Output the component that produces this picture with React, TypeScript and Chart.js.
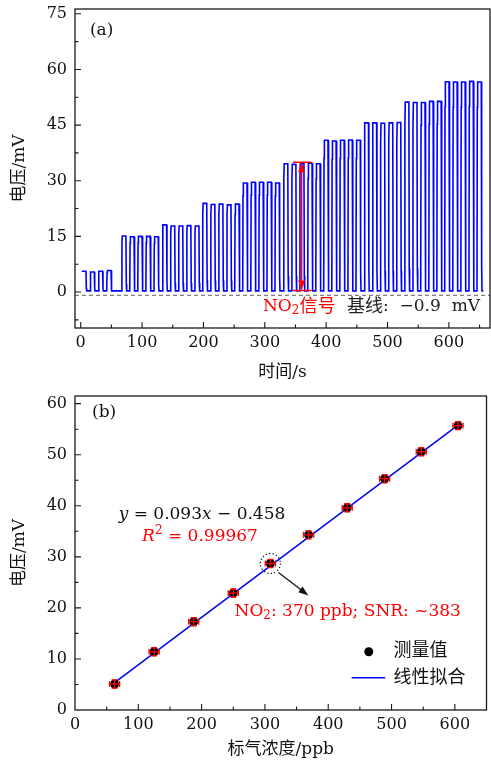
import React, { useEffect, useRef } from "react";
import { Chart, registerables } from "chart.js";
Chart.register(...registerables);

const FONT = "'DejaVu Serif', 'Noto Sans CJK SC', serif";
const f = (size: number, style = "") => `${style} ${size}px ${FONT}`.trim();

// ---------- (a) time trace ----------
const timeTicks = [0, 100, 200, 300, 400, 500, 600];
const voltTicksA = [0, 15, 30, 45, 60, 75];
const pulseStart = [
  1.6, 15.2, 28.7, 42.4,
  66.7, 79.9, 93.0, 106.2, 119.4,
  133.0, 146.2, 159.3, 172.5, 185.7,
  198.4, 211.6, 224.7, 237.9, 251.0,
  264.0, 277.2, 290.3, 303.5, 316.6,
  330.5, 343.7, 356.8, 370.0, 383.1,
  396.0, 409.2, 422.3, 435.5, 448.6,
  462.0, 475.2, 488.3, 501.5, 514.6,
  527.8, 541.0, 554.1, 567.3, 580.4,
  593.2, 606.4, 619.5, 632.7, 645.8,
];
const pulseHigh = [
  5.6, 5.4, 5.6, 5.8,
  15.1, 14.9, 15.0, 15.0, 14.9,
  18.1, 17.8, 17.8, 17.9, 17.8,
  23.9, 23.6, 23.7, 23.5, 23.7,
  29.4, 29.6, 29.6, 29.6, 29.4,
  34.6, 34.4, 34.6, 34.7, 34.6,
  40.9, 40.7, 40.9, 41.0, 40.9,
  45.6, 45.6, 45.5, 45.6, 45.7,
  51.2, 51.1, 51.1, 51.4, 51.4,
  56.7, 56.6, 56.6, 56.8, 56.6,
];
const pulseWidth = 7.0;
const lowLevel = 0.3;
const traceEnd = 656;
const baselineValue = -0.9;
const signalTime = 360;
const signalLow = 0.4;
const signalHigh = 35;

// ---------- (b) calibration ----------
const concentration = [62.5, 125, 187.5, 250, 308.6, 369, 430, 489, 547, 605];
const measured = [5.1, 11.4, 17.3, 22.9, 28.7, 34.3, 39.6, 45.3, 50.6, 55.7];
const concErr = [8, 8, 8, 8, 8, 8, 8, 8, 8, 8];
const voltErr = [0.8, 0.8, 0.8, 0.8, 0.8, 0.8, 0.8, 0.8, 0.8, 0.8];
const fitSlope = 0.093;
const fitIntercept = -0.458;
const concTicks = [0, 100, 200, 300, 400, 500, 600];
const voltTicksB = [0, 10, 20, 30, 40, 50, 60];
const highlightIndex = 4;

function buildTrace() {
  const pts: { x: number; y: number }[] = [];
  pulseStart.forEach((s, i) => {
    const h = pulseHigh[i];
    if (i === 0) {
      pts.push({ x: s, y: h });
    } else {
      pts.push({ x: s, y: lowLevel });
      pts.push({ x: s + 0.5, y: lowLevel + (h - lowLevel) * 0.88 });
      pts.push({ x: s + 1.1, y: h });
    }
    pts.push({ x: s + pulseWidth, y: h });
    pts.push({ x: s + pulseWidth + 0.6, y: lowLevel + (h - lowLevel) * 0.12 });
    pts.push({ x: s + pulseWidth + 1.2, y: lowLevel });
  });
  pts.push({ x: traceEnd, y: lowLevel });
  return pts;
}

type Run = { text: string; size?: number; style?: string; dy?: number; color?: string };
function drawRuns(ctx: CanvasRenderingContext2D, x: number, y: number, runs: Run[], color = "#111") {
  let cx = x;
  ctx.textBaseline = "middle";
  ctx.textAlign = "left";
  for (const r of runs) {
    ctx.font = f(r.size ?? 17, r.style ?? "");
    ctx.fillStyle = r.color ?? color;
    ctx.fillText(r.text, cx, y + (r.dy ?? 0));
    cx += ctx.measureText(r.text).width;
  }
}

function drawFrameAndTicks(chart: any, xMinorStep: number, yMinorStep: number) {
  const ctx = chart.ctx as CanvasRenderingContext2D;
  const { left, right, top, bottom } = chart.chartArea;
  const xs = chart.scales.x;
  const ys = chart.scales.y;
  ctx.save();
  ctx.strokeStyle = "#1a1a1a";
  ctx.lineWidth = 1.3;
  ctx.strokeRect(left, top, right - left, bottom - top);
  ctx.lineWidth = 1.1;
  ctx.beginPath();
  const eps = 1e-6;
  for (let v = Math.ceil(xs.min / xMinorStep) * xMinorStep; v <= xs.max + eps; v += xMinorStep) {
    const px = xs.getPixelForValue(v);
    if (px <= left + 1 || px >= right - 1) continue;
    const major = Math.abs(v / (xMinorStep * 2) - Math.round(v / (xMinorStep * 2))) < 1e-6;
    const len = major ? 6 : 3.5;
    ctx.moveTo(px, bottom);
    ctx.lineTo(px, bottom - len);
  }
  for (let v = Math.ceil(ys.min / yMinorStep) * yMinorStep; v <= ys.max + eps; v += yMinorStep) {
    const py = ys.getPixelForValue(v);
    if (py <= top + 1 || py >= bottom - 1) continue;
    const major = Math.abs(v / (yMinorStep * 2) - Math.round(v / (yMinorStep * 2))) < 1e-6;
    const len = major ? 6 : 3.5;
    ctx.moveTo(left, py);
    ctx.lineTo(left + len, py);
  }
  ctx.stroke();
  ctx.restore();
}

function arrowHead(ctx: CanvasRenderingContext2D, tipX: number, tipY: number, angle: number, len: number, half: number) {
  ctx.beginPath();
  ctx.moveTo(tipX, tipY);
  ctx.lineTo(tipX - len * Math.cos(angle) + half * Math.sin(angle), tipY - len * Math.sin(angle) - half * Math.cos(angle));
  ctx.lineTo(tipX - len * Math.cos(angle) - half * Math.sin(angle), tipY - len * Math.sin(angle) + half * Math.cos(angle));
  ctx.closePath();
  ctx.fill();
}

const pluginA = {
  id: "decorA",
  afterDraw(chart: any) {
    const ctx = chart.ctx as CanvasRenderingContext2D;
    const xs = chart.scales.x;
    const ys = chart.scales.y;
    drawFrameAndTicks(chart, 50, 7.5);
    ctx.save();
    const ax = xs.getPixelForValue(signalTime);
    const yTop = ys.getPixelForValue(signalHigh);
    const yBot = ys.getPixelForValue(signalLow);
    const capL = xs.getPixelForValue(signalTime - 14);
    const capR = xs.getPixelForValue(signalTime + 16);
    ctx.strokeStyle = "#ff0000";
    ctx.fillStyle = "#ff0000";
    ctx.lineWidth = 1.5;
    ctx.beginPath();
    ctx.moveTo(ax, yTop + 8);
    ctx.lineTo(ax, yBot - 8);
    ctx.moveTo(capL, yTop);
    ctx.lineTo(capR, yTop);
    ctx.moveTo(capL, yBot);
    ctx.lineTo(capR, yBot);
    ctx.stroke();
    arrowHead(ctx, ax, yTop, -Math.PI / 2, 10, 3.5);
    arrowHead(ctx, ax, yBot, Math.PI / 2, 10, 3.5);
    const ty = ys.getPixelForValue(-4);
    drawRuns(ctx, xs.getPixelForValue(297), ty, [
      { text: "NO", color: "#ff0000" },
      { text: "2", size: 12, dy: 4, color: "#ff0000" },
      { text: "信号", size: 18, color: "#ff0000" },
    ]);
    drawRuns(ctx, xs.getPixelForValue(434), ty, [
      { text: "基线", size: 18 },
      { text: ":  −0.9  mV" },
    ], "#222");
    drawRuns(ctx, xs.getPixelForValue(15), ys.getPixelForValue(70.6), [{ text: "(a)" }], "#111");
    ctx.restore();
  },
};

const pluginB = {
  id: "decorB",
  afterDatasetsDraw(chart: any) {
    const ctx = chart.ctx as CanvasRenderingContext2D;
    const xs = chart.scales.x;
    const ys = chart.scales.y;
    ctx.save();
    ctx.strokeStyle = "#ff0000";
    ctx.lineWidth = 1.3;
    ctx.beginPath();
    concentration.forEach((c, i) => {
      const px = xs.getPixelForValue(c);
      const py = ys.getPixelForValue(measured[i]);
      const x1 = xs.getPixelForValue(c - concErr[i]);
      const x2 = xs.getPixelForValue(c + concErr[i]);
      const y1 = ys.getPixelForValue(measured[i] - voltErr[i]);
      const y2 = ys.getPixelForValue(measured[i] + voltErr[i]);
      ctx.moveTo(x1, py); ctx.lineTo(x2, py);
      ctx.moveTo(x1, py - 3); ctx.lineTo(x1, py + 3);
      ctx.moveTo(x2, py - 3); ctx.lineTo(x2, py + 3);
      ctx.moveTo(px, y1); ctx.lineTo(px, y2);
      ctx.moveTo(px - 3, y1); ctx.lineTo(px + 3, y1);
      ctx.moveTo(px - 3, y2); ctx.lineTo(px + 3, y2);
    });
    ctx.stroke();
    ctx.restore();
  },
  afterDraw(chart: any) {
    const ctx = chart.ctx as CanvasRenderingContext2D;
    const xs = chart.scales.x;
    const ys = chart.scales.y;
    drawFrameAndTicks(chart, 50, 5);
    ctx.save();
    drawRuns(ctx, xs.getPixelForValue(27), ys.getPixelForValue(58.2), [{ text: "(b)" }], "#111");
    drawRuns(ctx, xs.getPixelForValue(69), ys.getPixelForValue(38.2), [
      { text: "y", style: "italic" },
      { text: " = 0.093" },
      { text: "x", style: "italic" },
      { text: " − 0.458" },
    ], "#111");
    drawRuns(ctx, xs.getPixelForValue(106), ys.getPixelForValue(33.9), [
      { text: "R", style: "italic" },
      { text: "2", size: 12, dy: -6 },
      { text: " = 0.99967" },
    ], "#ff0000");
    drawRuns(ctx, xs.getPixelForValue(252), ys.getPixelForValue(19.2), [
      { text: "NO" },
      { text: "2", size: 12, dy: 4 },
      { text: ": 370 ppb; SNR: ~383" },
    ], "#ff0000");
    const hx = xs.getPixelForValue(concentration[highlightIndex]);
    const hy = ys.getPixelForValue(measured[highlightIndex]);
    ctx.strokeStyle = "#111";
    ctx.lineWidth = 1.2;
    ctx.setLineDash([1.3, 2.2]);
    ctx.beginPath();
    ctx.arc(hx, hy, 10, 0, Math.PI * 2);
    ctx.stroke();
    ctx.setLineDash([]);
    const sx = hx + 8, sy = hy + 9, ex = hx + 38, ey = hy + 32;
    const ang = Math.atan2(ey - sy, ex - sx);
    ctx.beginPath();
    ctx.moveTo(sx, sy);
    ctx.lineTo(ex - 8 * Math.cos(ang), ey - 8 * Math.sin(ang));
    ctx.stroke();
    ctx.fillStyle = "#111";
    arrowHead(ctx, ex, ey, ang, 10, 3.5);
    const ly1 = ys.getPixelForValue(11.4);
    const ly2 = ys.getPixelForValue(6.3);
    ctx.fillStyle = "#000";
    ctx.beginPath();
    ctx.arc(xs.getPixelForValue(464), ly1, 4.5, 0, Math.PI * 2);
    ctx.fill();
    drawRuns(ctx, xs.getPixelForValue(503), ly1, [{ text: "测量值", size: 18 }], "#111");
    ctx.strokeStyle = "#0000ff";
    ctx.lineWidth = 1.5;
    ctx.beginPath();
    ctx.moveTo(xs.getPixelForValue(437), ly2);
    ctx.lineTo(xs.getPixelForValue(490), ly2);
    ctx.stroke();
    drawRuns(ctx, xs.getPixelForValue(503), ly2, [{ text: "线性拟合", size: 18 }], "#111");
    ctx.restore();
  },
};

function scaleCommon(ticks: number[], min: number, max: number, title: string, isX: boolean, size: number, titlePad: any, tickPad: number) {
  return {
    type: "linear",
    min,
    max,
    afterBuildTicks: (s: any) => {
      s.ticks = ticks.map((v) => ({ value: v }));
    },
    afterFit: (s: any) => {
      if (isX) {
        s.height = size;
        s.paddingLeft = 0;
        s.paddingRight = 0;
      } else {
        s.width = size;
        s.paddingTop = 0;
        s.paddingBottom = 0;
      }
    },
    grid: { display: false, drawTicks: false },
    border: { display: false },
    ticks: {
      padding: tickPad,
      font: { family: FONT, size: 16 },
      color: "#111",
      maxRotation: 0,
      autoSkip: false,
    },
    title: {
      display: true,
      text: title,
      font: { family: FONT, size: 17 },
      color: "#111",
      padding: titlePad,
    },
  };
}

export default function App() {
  const refA = useRef<HTMLCanvasElement>(null);
  const refB = useRef<HTMLCanvasElement>(null);

  useEffect(() => {
    const chartA = new Chart(refA.current as HTMLCanvasElement, {
      type: "line",
      data: {
        datasets: [
          {
            data: buildTrace(),
            borderColor: "#0000ff",
            borderWidth: 1.6,
            pointRadius: 0,
            tension: 0,
            fill: false,
          },
          {
            data: [
              { x: -9.3, y: baselineValue },
              { x: 667, y: baselineValue },
            ],
            borderColor: "#808080",
            borderDash: [4, 3],
            borderWidth: 1.2,
            pointRadius: 0,
            fill: false,
          },
        ],
      },
      options: {
        responsive: false,
        animation: false,
        layout: { padding: { top: 9, right: 1, left: 0, bottom: 0 } },
        plugins: { legend: { display: false }, tooltip: { enabled: false } },
        scales: {
          x: scaleCommon(timeTicks, -9.3, 667, "时间/s", true, 60, { top: 0, bottom: 5 }, 5),
          y: scaleCommon(voltTicksA, -9.7, 76.3, "电压/mV", false, 75, { top: 9, bottom: 0 }, 8),
        },
      } as any,
      plugins: [pluginA],
    } as any);

    const chartB = new Chart(refB.current as HTMLCanvasElement, {
      type: "scatter",
      data: {
        datasets: [
          {
            data: concentration.map((c, i) => ({ x: c, y: measured[i] })),
            pointRadius: 4.5,
            backgroundColor: "#000",
            borderColor: "#000",
            borderWidth: 0,
            showLine: false,
            order: 0,
          },
          {
            data: [concentration[0], concentration[concentration.length - 1]].map((c) => ({
              x: c,
              y: fitSlope * c + fitIntercept,
            })),
            showLine: true,
            borderColor: "#0000ff",
            borderWidth: 1.5,
            pointRadius: 0,
            order: 1,
          },
        ],
      },
      options: {
        responsive: false,
        animation: false,
        layout: { padding: { top: 8, right: 1, left: 0, bottom: 0 } },
        plugins: { legend: { display: false }, tooltip: { enabled: false } },
        scales: {
          x: scaleCommon(concTicks, 0, 650, "标气浓度/ppb", true, 50, { top: 0, bottom: 0 }, 5),
          y: scaleCommon(voltTicksB, 0, 61.5, "电压/mV", false, 75, { top: 9, bottom: 0 }, 8),
        },
      } as any,
      plugins: [pluginB],
    } as any);

    return () => {
      chartA.destroy();
      chartB.destroy();
    };
  }, []);

  return (
    <div style={{ position: "absolute", left: 0, top: 0, width: 491, height: 760, background: "#fff" }}>
      <canvas ref={refA} width={491} height={388} style={{ position: "absolute", left: 0, top: 0 }} />
      <canvas ref={refB} width={491} height={372} style={{ position: "absolute", left: 0, top: 388 }} />
    </div>
  );
}
